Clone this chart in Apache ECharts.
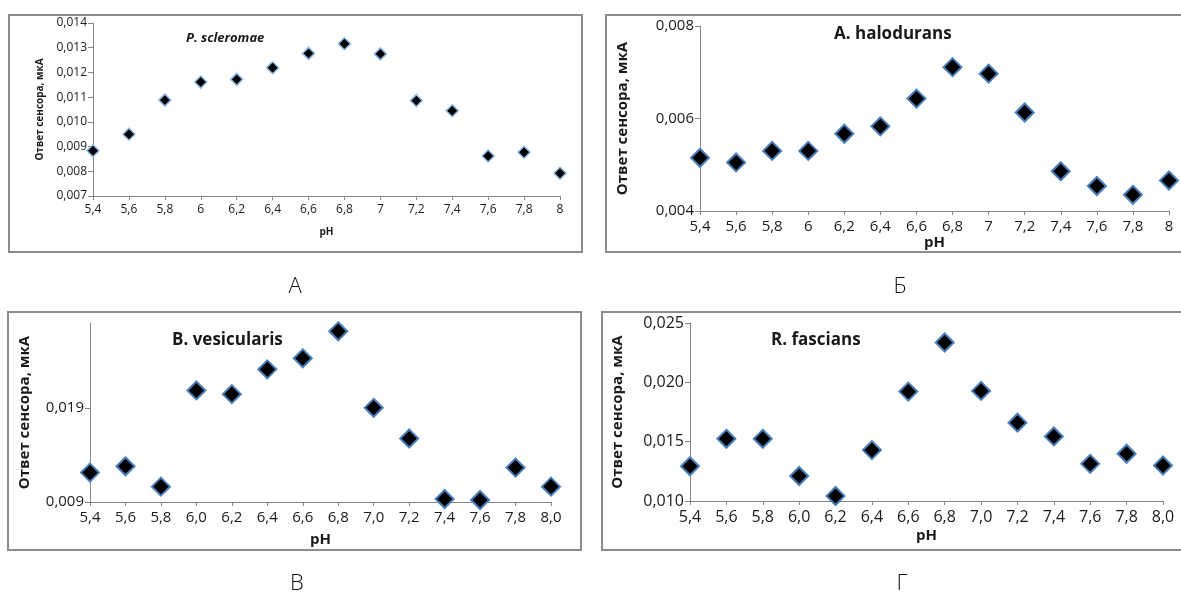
<!DOCTYPE html>
<html>
<head>
<meta charset="utf-8">
<script src="https://cdn.jsdelivr.net/npm/echarts@6/dist/echarts.min.js"></script>
<style>
  html, body { margin: 0; padding: 0; background: #fff; }
  #main { width: 1181px; height: 593px; }
</style>
</head>
<body>
<div id="main"></div>
<script>
// pH values (x axis), same for all four panels
const phA = ['5,4', '5,6', '5,8', '6', '6,2', '6,4', '6,6', '6,8', '7', '7,2', '7,4', '7,6', '7,8', '8'];
const phB = ['5,4', '5,6', '5,8', '6,0', '6,2', '6,4', '6,6', '6,8', '7,0', '7,2', '7,4', '7,6', '7,8', '8,0'];

// sensor response, uA
const scleromae = [0.00883, 0.00950, 0.01088, 0.01161, 0.01172, 0.01219, 0.01277, 0.01316, 0.01275, 0.01086, 0.01045, 0.00862, 0.00877, 0.00792];
const halodurans = [0.00515, 0.00505, 0.00530, 0.00530, 0.00567, 0.00583, 0.00643, 0.00711, 0.00697, 0.00613, 0.00486, 0.00454, 0.00435, 0.00466];
const vesicularis = [0.01212, 0.01279, 0.01063, 0.02084, 0.02045, 0.02308, 0.02425, 0.02712, 0.01900, 0.01574, 0.00932, 0.00921, 0.01265, 0.01063];
const fascians = [0.01293, 0.01524, 0.01524, 0.01211, 0.01042, 0.01429, 0.01922, 0.02336, 0.01928, 0.01660, 0.01544, 0.01313, 0.01398, 0.01299];

// y tick labels
const ticksA = [0.007, 0.008, 0.009, 0.010, 0.011, 0.012, 0.013, 0.014];
const ticksB = [0.004, 0.006, 0.008];
const ticksV = [0.009, 0.019];
const ticksG = [0.010, 0.015, 0.020, 0.025];

const titles = ['P. scleromae', 'A. halodurans', 'B. vesicularis', 'R. fascians'];
const panelLetters = ['А', 'Б', 'В', 'Г'];
const yName = 'Ответ сенсора, мкА';

const FONT = '"Open Sans", "Noto Sans", sans-serif';
const axisGray = '#868686';
const textCol = '#1a1a1a';

const fmt = v => v.toFixed(3).replace('.', ',');

// panel layout: grid box + font sizes
const panels = [
  { grid: { left: 93, top: 23, width: 467, height: 173 }, cats: phA, data: scleromae, min: 0.007, max: 0.014, ticks: ticksA,
    fs: 12, nameFs: 10, yGap: 48, xGap: 31, sym: 12, border: '#8db4e2', bw: 1.5 },
  { grid: { left: 700, top: 26, width: 469, height: 185 }, cats: phA, data: halodurans, min: 0.004, max: 0.008, ticks: ticksB,
    fs: 15, nameFs: 15, yGap: 70, xGap: 15, sym: 18, border: '#4a7ebb', bw: 2 },
  { grid: { left: 90, top: 323, width: 461, height: 179 }, cats: phB, data: vesicularis, min: 0.009, max: 0.028, ticks: ticksV,
    fs: 15, nameFs: 15, yGap: 58, xGap: 30, sym: 18, border: '#4a7ebb', bw: 2 },
  { grid: { left: 690, top: 323, width: 473, height: 178 }, cats: phB, data: fascians, min: 0.010, max: 0.025, ticks: ticksG,
    fs: 16, nameFs: 15, yGap: 65, xGap: 27, sym: 18, border: '#4a7ebb', bw: 2 }
];

const grids = [], xAxes = [], yAxes = [], series = [];
panels.forEach((p, i) => {
  grids.push(p.grid);
  xAxes.push({
    type: 'category', gridIndex: i, data: p.cats, boundaryGap: false,
    name: 'pH', nameLocation: 'middle', nameGap: p.xGap,
    nameTextStyle: { fontFamily: FONT, fontWeight: 'bold', fontSize: p.nameFs, color: textCol },
    axisLine: { lineStyle: { color: axisGray, width: 1 } },
    axisTick: { show: true, alignWithLabel: true, length: 4, lineStyle: { color: axisGray } },
    axisLabel: { fontFamily: FONT, fontSize: p.fs, color: textCol, margin: 8 },
    splitLine: { show: false }
  });
  yAxes.push({
    type: 'value', gridIndex: i, min: p.min, max: p.max,
    name: yName, nameLocation: 'middle', nameGap: p.yGap,
    nameTextStyle: { fontFamily: FONT, fontWeight: 'bold', fontSize: p.nameFs, color: textCol },
    axisLine: { show: true, lineStyle: { color: axisGray, width: 1 } },
    axisTick: { show: true, length: 5, customValues: p.ticks, lineStyle: { color: axisGray } },
    axisLabel: { fontFamily: FONT, fontSize: p.fs, color: textCol, margin: 6, customValues: p.ticks, formatter: fmt },
    splitLine: { show: false }
  });
  series.push({
    type: 'scatter', xAxisIndex: i, yAxisIndex: i, data: p.data,
    symbol: 'diamond', symbolSize: p.sym,
    itemStyle: { color: '#000', opacity: 1, borderColor: p.border, borderWidth: p.bw },
    emphasis: { disabled: true }
  });
});

const chart = echarts.init(document.getElementById('main'));
chart.setOption({
  animation: false,
  backgroundColor: '#fff',
  grid: grids,
  xAxis: xAxes,
  yAxis: yAxes,
  series: series,
  title: [
    { text: titles[0], left: 181, top: 27, textStyle: { fontFamily: FONT, fontSize: 13, fontWeight: 'bold', fontStyle: 'italic', color: textCol } },
    { text: titles[1], left: 829, top: 21, textStyle: { fontFamily: FONT, fontSize: 17, fontWeight: 'bold', color: textCol } },
    { text: titles[2], left: 167, top: 327, textStyle: { fontFamily: FONT, fontSize: 17, fontWeight: 'bold', color: textCol } },
    { text: titles[3], left: 766, top: 327, textStyle: { fontFamily: FONT, fontSize: 17, fontWeight: 'bold', color: textCol } }
  ],
  graphic: [
    // panel frames
    { type: 'rect', shape: { x: 9, y: 15, width: 573, height: 237 }, style: { fill: 'none', stroke: '#8c8c8c', lineWidth: 2 } },
    { type: 'rect', shape: { x: 606, y: 15, width: 600, height: 237 }, style: { fill: 'none', stroke: '#8c8c8c', lineWidth: 2 } },
    { type: 'rect', shape: { x: 8, y: 312, width: 573, height: 238 }, style: { fill: 'none', stroke: '#8c8c8c', lineWidth: 2 } },
    { type: 'rect', shape: { x: 602, y: 312, width: 600, height: 238 }, style: { fill: 'none', stroke: '#8c8c8c', lineWidth: 2 } },
    // panel letters
    { type: 'text', x: 295, y: 287, style: { text: panelLetters[0], fontFamily: FONT, fontWeight: 300, fontSize: 22, fill: '#111', align: 'center', verticalAlign: 'middle' } },
    { type: 'text', x: 900, y: 287, style: { text: panelLetters[1], fontFamily: FONT, fontWeight: 300, fontSize: 22, fill: '#111', align: 'center', verticalAlign: 'middle' } },
    { type: 'text', x: 297, y: 584, style: { text: panelLetters[2], fontFamily: FONT, fontWeight: 300, fontSize: 22, fill: '#111', align: 'center', verticalAlign: 'middle' } },
    { type: 'text', x: 902, y: 584, style: { text: panelLetters[3], fontFamily: FONT, fontWeight: 300, fontSize: 22, fill: '#111', align: 'center', verticalAlign: 'middle' } }
  ]
});
</script>
</body>
</html>
